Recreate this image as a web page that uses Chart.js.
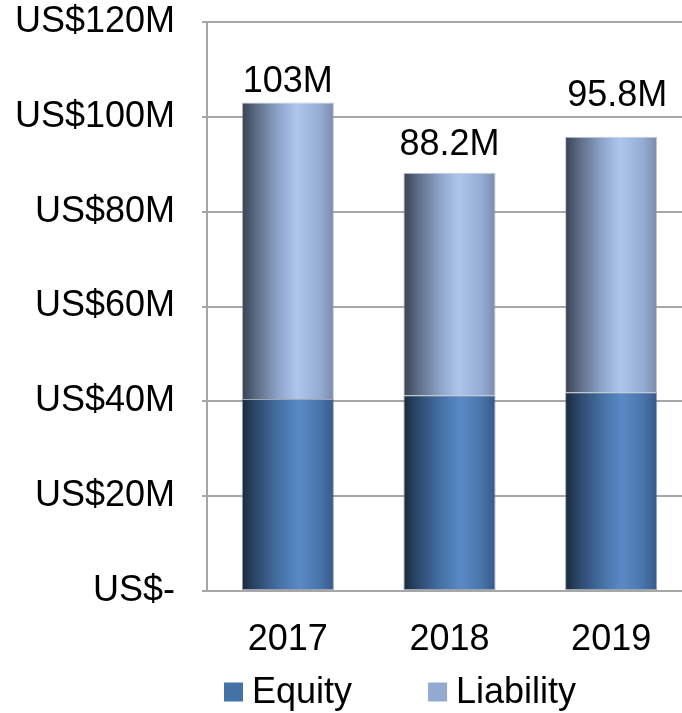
<!DOCTYPE html>
<html>
<head>
<meta charset="utf-8">
<script src="https://cdn.jsdelivr.net/npm/chart.js@4.4.1/dist/chart.umd.min.js"></script>
<style>
  body { margin: 0; background: #fff; }
  #clip { width: 682px; height: 713px; overflow: hidden; }
  #box { position: relative; width: 700px; height: 713px; }
</style>
</head>
<body>
<div id="clip"><div id="box"><canvas id="myChart"></canvas></div></div>
<script>
const years = ['2017', '2018', '2019']
const equity = [40.5, 41.3, 41.9]
const liability = [62.5, 46.9, 53.9]
const totalLabels = ['103M', '88.2M', '95.8M']
const seriesNames = ['Equity', 'Liability']
const legendColors = ['#4472a8', '#93a9d0']

const FONT = '"Liberation Sans", Arial, sans-serif'
const barPct = 0.57

// horizontal "cylinder" shading, one gradient per bar
function shade(stops) {
    return function (c) {
        const xs = c.chart.scales.x
        if (!xs || c.dataIndex == null) return stops[3][1]
        const cx = xs.getPixelForValue(c.dataIndex)
        const w = xs.width / years.length * barPct
        if (!isFinite(cx) || !isFinite(w) || w <= 0) return stops[3][1]
        const g = c.chart.ctx.createLinearGradient(cx - w / 2, 0, cx + w / 2, 0)
        stops.forEach(s => g.addColorStop(s[0], s[1]))
        return g
    }
}

const equityStops = [[0, '#1a293d'], [0.15, '#2d476b'], [0.4, '#4470a4'], [0.62, '#5a8ac6'], [0.85, '#4874aa'], [1, '#37598a']]
const liabilityStops = [[0, '#394254'], [0.15, '#5c6a84'], [0.4, '#8ea4cb'], [0.6, '#aec6ee'], [0.85, '#94abd3'], [1, '#7a8cad']]

// totals above the stacks (placed by hand in the original)
const labelGap = [11, 18, 31]
const labelShift = [0, 0, 6]
const totalsPlugin = {
    id: 'totals',
    afterDatasetsDraw(chart) {
        const ctx = chart.ctx
        const meta = chart.getDatasetMeta(1)
        ctx.save()
        ctx.font = '36px ' + FONT
        ctx.fillStyle = '#000'
        ctx.textAlign = 'center'
        ctx.textBaseline = 'alphabetic'
        meta.data.forEach((bar, i) => {
            ctx.fillText(totalLabels[i], bar.x + labelShift[i], bar.y - labelGap[i])
        })
        ctx.restore()
    }
}

const legendPlugin = {
    id: 'legendBottom',
    afterDraw(chart) {
        const ctx = chart.ctx
        ctx.save()
        ctx.font = '36px ' + FONT
        ctx.textBaseline = 'middle'
        ctx.textAlign = 'left'
        const y = 692
        let x = 224
        seriesNames.forEach((name, i) => {
            ctx.fillStyle = legendColors[i]
            ctx.fillRect(x, y - 9.5, 19, 19)
            ctx.fillStyle = '#000'
            ctx.fillText(name, x + 28, y + 1)
            x += 28 + ctx.measureText(name).width + 76
        })
        ctx.restore()
    }
}

const ctx = document.getElementById('myChart')
new Chart(ctx, {
    type: 'bar',
    data: {
        labels: years,
        datasets: [{
            label: seriesNames[0],
            data: equity,
            backgroundColor: shade(equityStops),
            borderColor: 'rgba(90,105,125,0.6)',
            borderWidth: 1,
            borderSkipped: false
        }, {
            label: seriesNames[1],
            data: liability,
            backgroundColor: shade(liabilityStops),
            borderColor: 'rgba(150,160,175,0.55)',
            borderWidth: 1,
            borderSkipped: 'bottom'
        }]
    },
    options: {
        responsive: true,
        maintainAspectRatio: false,
        animation: false,
        layout: { padding: { top: 0, right: 8, left: 0, bottom: 0 } },
        datasets: { bar: { barPercentage: 1, categoryPercentage: barPct } },
        plugins: {
            legend: { display: false },
            tooltip: { enabled: false }
        },
        scales: {
            x: {
                stacked: true,
                grid: { display: false },
                border: { display: true, color: '#a6a6a6', width: 2 },
                ticks: { color: '#000', font: { family: FONT, size: 36 }, padding: 19 },
                afterFit: s => { s.height = 122 }
            },
            y: {
                stacked: true,
                min: 0,
                max: 120,
                grid: { color: '#a6a6a6', lineWidth: 2, tickLength: 5 },
                border: { display: true, color: '#a6a6a6', width: 2 },
                ticks: {
                    stepSize: 20,
                    color: '#000',
                    padding: 27,
                    font: { family: FONT, size: 36 },
                    callback: v => v === 0 ? 'US$-' : 'US$' + v + 'M'
                },
                afterFit: s => { s.width = 207; s.paddingTop = 22; s.paddingBottom = 0 }
            }
        }
    },
    plugins: [totalsPlugin, legendPlugin]
})
</script>
</body>
</html>
